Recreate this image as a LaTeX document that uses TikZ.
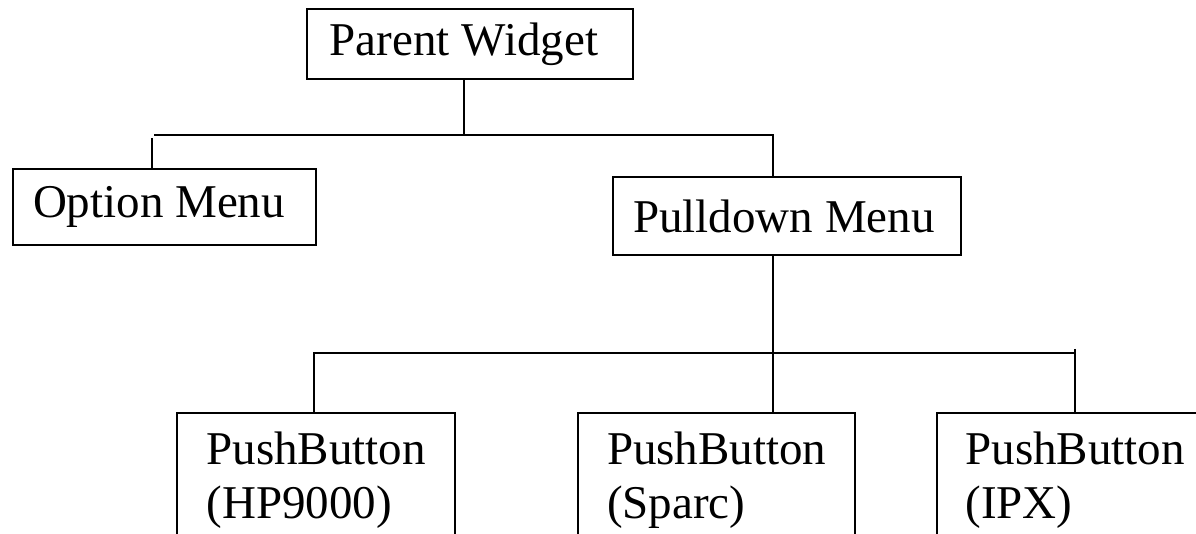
\documentclass[tikz,border=0pt]{standalone}
\usepackage{fontspec}
\setmainfont{Liberation Serif}
\newcommand{\padr}[1]{\rule{#1}{0pt}}
\begin{document}
\begin{tikzpicture}[x=1pt,y=-1pt,
  box/.style={draw=black, line width=2.4pt, fill=white, inner xsep=0pt, inner ysep=0pt,
    font=\fontsize{47}{54}\selectfont},
  pbbox/.style={draw=black, line width=2.4pt, fill=white, inner xsep=0pt, inner ysep=19pt,
    align=left, anchor=north west, font=\fontsize{47}{54}\selectfont},
  wire/.style={draw=black, line width=2.8pt}]
\useasboundingbox (0,0) rectangle (1196,534);
\clip (0,0) rectangle (1196,534);
% top level boxes
\node[box, minimum width=326pt, minimum height=70pt] (parent) at (470,44) {Parent Widget\padr{12pt}};
\node[box, minimum width=303pt, minimum height=76pt] (opt) at (164.5,207) {Option Menu\padr{11pt}};
\node[box, minimum width=348pt, minimum height=78pt] (pull) at (787,216) {Pulldown Menu\padr{6pt}};
% bottom boxes
\node[pbbox, minimum width=278pt] (pb1) at (176,412) {PushButton\\(HP9000)};
\node[pbbox, minimum width=277pt] (pb2) at (577,412) {PushButton\\(Sparc)};
\node[pbbox, minimum width=276pt] (pb3) at (936,412) {PushButton\\(IPX)};
% junctions
\coordinate (j1) at (464,135);
\coordinate (hl) at (154,135);
\coordinate (hr) at (773,135);
\coordinate (ot) at (152,138);
\coordinate (bl) at (314,353);
\coordinate (br) at (1075,353);
\coordinate (brt) at (1075,349);
% connectors
\draw[wire] (parent.south -| j1) -- (j1);
\draw[wire] (hl) -- (hr) -- (hr |- pull.north);
\draw[wire] (ot) -- (ot |- opt.north);
\draw[wire] (hr |- pull.south) -- (hr |- pb2.north);
\draw[wire] (bl |- pb1.north) -- (bl) -- (br);
\draw[wire] (brt) -- (brt |- pb3.north);
\end{tikzpicture}
\end{document}
